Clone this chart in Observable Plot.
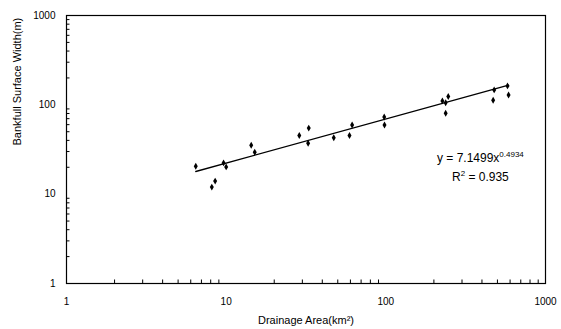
<!DOCTYPE html>
<html>
<head>
<meta charset="utf-8">
<script src="https://cdn.jsdelivr.net/npm/d3@7"></script>
<script src="https://cdn.jsdelivr.net/npm/@observablehq/plot@0.6"></script>
<style>
  html, body { margin: 0; padding: 0; background: #fff; }
</style>
</head>
<body>
<div id="chart"></div>
<script>
// Drainage area (km²) and bankfull surface width (m)
const area  = [6.45, 8.13, 8.53, 9.63, 10.0, 14.35, 15.1, 28.7, 32.9, 32.6, 47.2, 59.2, 61.5, 97.7, 98.1, 226, 246, 237, 237, 477, 470, 578, 587];
const width = [20.5, 12.0, 14.0, 22.4, 20.2, 35.3, 29.4, 45.4, 54.9, 37.2, 42.8, 45.4, 59.4, 73.1, 59.4, 110.7, 124, 105.6, 80.4, 147, 112.7, 163, 129];

const majorTicks = [1, 10, 100, 1000];
const minorTicks = [2, 3, 4, 5, 6, 7, 8, 9, 20, 30, 40, 50, 60, 70, 80, 90, 200, 300, 400, 500, 600, 700, 800, 900];

// Power trendline as reported on the chart
const coefA = 7.1499;
const coefB = 0.4934;
const r2 = 0.935;

const eqMain = "y = " + coefA + "x";
const eqExp = String(coefB);
const eqFull = eqMain + eqExp;
const r2Full = "R2 = " + r2;

const pts = area.map((a, i) => ({area: a, width: width[i]}));
const xMin = d3.min(area), xMax = d3.max(area);
const trend = [xMin, xMax].map(x => ({area: x, width: coefA * Math.pow(x, coefB)}));

const font = "'Liberation Sans', Arial, Helvetica, sans-serif";

const chart = Plot.plot({
  width: 561,
  height: 329,
  marginLeft: 66,
  marginRight: 16,
  marginTop: 15,
  marginBottom: 46,
  style: {fontFamily: font, fontSize: "10px", background: "#fff", color: "#000"},
  x: {type: "log", domain: [1, 1000]},
  y: {type: "log", domain: [1, 1000]},
  marks: [
    Plot.ruleX(minorTicks, {x: d => d, y1: 1, y2: Math.pow(10, 3.5 / 89.3), stroke: "#000", strokeWidth: 1}),
    Plot.ruleY(minorTicks, {y: d => d, x1: 1, x2: Math.pow(10, 3.5 / 159.7), stroke: "#000", strokeWidth: 1}),
    Plot.frame({stroke: "#000", strokeWidth: 1.2}),
    Plot.axisX({ticks: majorTicks, tickFormat: d => String(d), tickSize: 0, tickPadding: 14, label: null, fontSize: 10}),
    Plot.axisY({ticks: majorTicks, tickFormat: d => String(d), tickSize: 0, tickPadding: 11, label: null, fontSize: 10}),
    Plot.line(trend, {x: "area", y: "width", stroke: "#000", strokeWidth: 1.3}),
    Plot.dot(pts, {x: "area", y: "width", symbol: "diamond", r: 2.1, fill: "#000", stroke: "none"}),
    Plot.text([eqFull], {x: 391, y: 25.1, text: d => d, fontSize: 12, textAnchor: "middle", fill: "#000"}),
    Plot.text([r2Full], {x: 391, y: 15.4, text: d => d, fontSize: 12, textAnchor: "middle", fill: "#000"}),
    Plot.text(["Drainage Area(km²)"], {frameAnchor: "bottom", dy: 40, text: d => d, fontSize: 11, fill: "#000"}),
    Plot.text(["Bankfull Surface Width(m)"], {frameAnchor: "left", dx: -49, dy: -4, rotate: -90, text: d => d, fontSize: 11, fill: "#000"})
  ]
});

// Superscripts for the trendline annotation
d3.select(chart).selectAll("text").each(function() {
  const t = d3.select(this);
  const s = t.text();
  if (s === eqFull) {
    t.text("");
    t.append("tspan").text(eqMain);
    t.append("tspan").attr("dy", "-5").attr("font-size", 8).text(eqExp);
  } else if (s === r2Full) {
    t.text("");
    t.append("tspan").text("R");
    t.append("tspan").attr("dy", "-5").attr("font-size", 8).text("2");
    t.append("tspan").attr("dy", "5").text(" = " + r2);
  }
});

document.getElementById("chart").appendChild(chart);
</script>
</body>
</html>
